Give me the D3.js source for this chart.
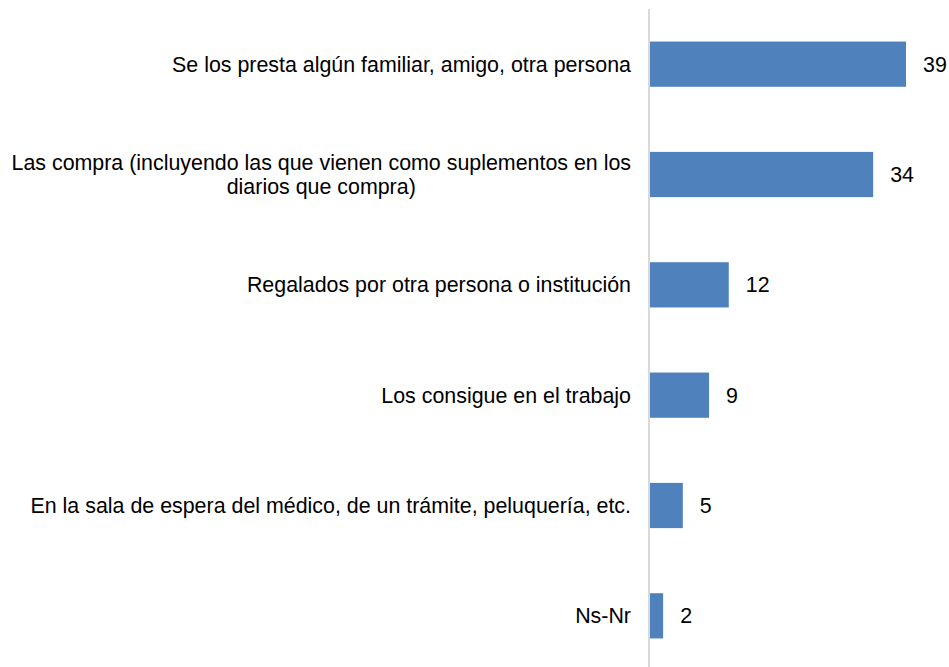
<!DOCTYPE html>
<html>
<head>
<meta charset="utf-8">
<style>
  body { margin: 0; background: #fff; }
  text { font-family: "Liberation Sans", Arial, sans-serif; fill: #000; }
</style>
</head>
<body>
<svg width="949" height="667"></svg>
<script src="https://d3js.org/d3.v7.min.js"></script>
<script>

// categories (line breaks as in the picture) and percentages
var categories = [
  "Se los presta algún familiar, amigo, otra persona",
  "Las compra (incluyendo las que vienen como suplementos en los\ndiarios que compra)",
  "Regalados por otra persona o institución",
  "Los consigue en el trabajo",
  "En la sala de espera del médico, de un trámite, peluquería, etc.",
  "Ns-Nr"
];
var values = [39, 34, 12, 9, 5, 2];

var svg = d3.select("svg"),
    x0 = 650,
    fontSize = 21.4;

var x = d3.scaleLinear()
    .domain([0, 39])
    .range([x0, 906]);

var y = d3.scaleBand()
    .domain(categories)
    .range([9, 671])
    .paddingInner(0.59)
    .paddingOuter(0.295);

var data = categories.map(function(c, i) { return { cat: c, value: values[i] }; });

svg.selectAll("rect.bar")
  .data(data)
  .enter().append("rect")
    .attr("class", "bar")
    .attr("x", x(0))
    .attr("y", function(d) { return y(d.cat); })
    .attr("width", function(d) { return x(d.value) - x(0); })
    .attr("height", y.bandwidth())
    .attr("fill", "#4f81bd");

// vertical axis line
svg.append("line")
    .attr("x1", x0 - 1).attr("x2", x0 - 1)
    .attr("y1", 9).attr("y2", 667)
    .attr("stroke", "#d9d9d9")
    .attr("stroke-width", 2);

// value labels
svg.selectAll("text.val")
  .data(data)
  .enter().append("text")
    .attr("class", "val")
    .attr("x", function(d) { return x(d.value) + 17; })
    .attr("y", function(d) { return y(d.cat) + y.bandwidth() / 2; })
    .attr("dy", "0.35em")
    .style("font-size", fontSize + "px")
    .text(function(d) { return d.value; });

// category labels, multi-line ones centred as a block
var lab = svg.selectAll("text.cat")
  .data(data)
  .enter().append("text")
    .attr("class", "cat")
    .style("font-size", fontSize + "px");

lab.each(function(d) {
  var lines = d.cat.split("\n"),
      t = d3.select(this),
      cy = y(d.cat) + y.bandwidth() / 2,
      lh = 24;
  var spans = lines.map(function(l, i) {
    return t.append("tspan")
      .attr("y", cy + (i - (lines.length - 1) / 2) * lh)
      .attr("dy", "0.35em")
      .text(l);
  });
  var w = d3.max(spans, function(s) { return s.node().getComputedTextLength(); });
  spans.forEach(function(s) {
    var sw = s.node().getComputedTextLength();
    s.attr("x", 631 - w / 2 - sw / 2);
  });
});

</script>
</body>
</html>
